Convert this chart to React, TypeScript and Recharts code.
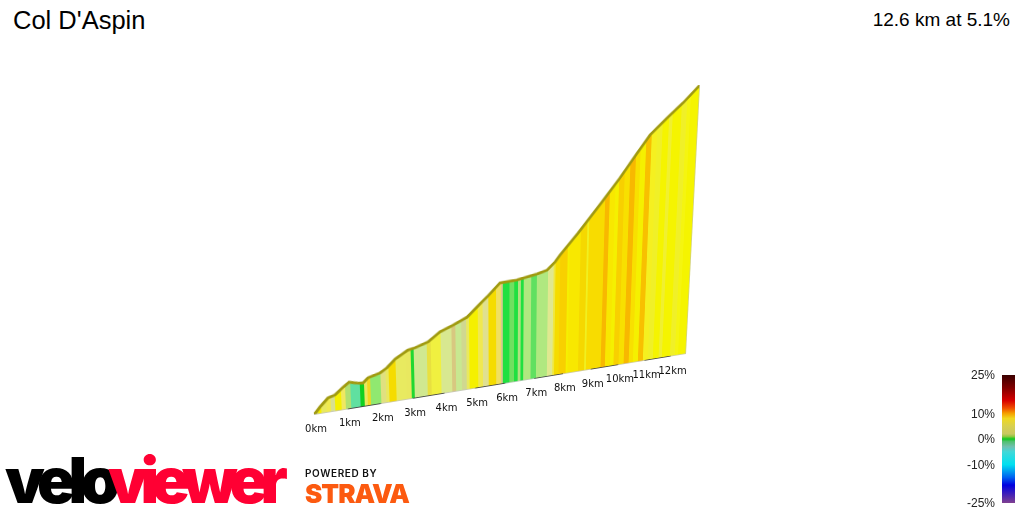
import {
  AreaChart,
  Area,
  BarChart,
  Bar,
  LineChart,
  Line,
  XAxis,
  YAxis,
  ReferenceLine,
} from "recharts";

const TITLE = "Col D'Aspin";
const SUBTITLE = "12.6 km at 5.1%";

const TOTAL_KM = 12.6;
const TOTAL_GAIN = 643;

// climb profile
const profileKm = [
  0, 0.19, 0.43, 0.64, 0.86, 1.07, 1.31, 1.48, 1.64, 2.01, 2.22, 2.48, 2.88, 3.1, 3.51, 3.89, 4.31,
  4.76, 5.24, 5.41, 5.83, 6.39, 7.06, 7.4, 7.67, 7.83, 8.44, 9.25, 9.85, 10.42, 10.87, 11.45, 12.01,
  12.6,
];
const profileElevation = [
  0, 16, 33, 37, 50, 61, 56, 54, 64, 71, 80, 97, 113, 116, 125, 144, 155, 169, 199, 209, 237, 239,
  247, 253, 270, 284, 330, 396, 446, 498, 538, 573, 605, 643,
];

// gradient bands: where each one ends (km) and its colour
const sliceEnds = [
  0.126, 0.225, 0.371, 0.497, 0.643, 0.81, 0.957, 1.105, 1.4, 1.5, 1.6, 1.7, 2.03, 2.18, 2.26, 2.49,
  2.8, 2.96, 3.06, 3.45, 3.59, 3.91, 4.26, 4.37, 4.56, 4.72, 4.83, 5.1, 5.27, 5.44, 5.69, 5.85, 5.93,
  6.14, 6.3, 6.42, 6.51, 6.6, 6.88, 7.05, 7.43, 7.63, 7.7, 7.84, 8.1, 8.17, 8.55, 8.77, 8.82, 9.34,
  9.5, 9.7, 9.83, 10.01, 10.2, 10.4, 10.56, 10.75, 10.94, 11.13, 11.32, 11.53, 11.65, 11.97, 12.17,
  12.3, 12.6,
];
const sliceColors = [
  "#e8e850", "#f5f000", "#e8e860", "#f0ea50", "#d8e090", "#f5f000", "#f0e860", "#b0e070", "#60e0a0",
  "#10d020", "#e8e860", "#f2d820", "#90e870", "#e0e080", "#e8e860", "#f5dc00", "#e8ea60", "#e8e860",
  "#20d830", "#d0e890", "#e8e040", "#f0f040", "#d8e890", "#d8c880", "#c8e890", "#d0d890", "#e8e860",
  "#f5f000", "#f0e850", "#e0e090", "#f5dc00", "#f0e060", "#d8c890", "#20e040", "#70e060", "#20e040",
  "#b0e080", "#20e040", "#b0e880", "#60e060", "#b0e880", "#e0e890", "#f0e840", "#f5dc00", "#f8d000",
  "#f5f000", "#f8e800", "#f5d800", "#f0f020", "#f8dc00", "#f8b800", "#f8e800", "#f5f000", "#f8d000",
  "#f8e000", "#f8b800", "#f8e000", "#f5f000", "#f8c000", "#f5f020", "#f0f028", "#f5f400", "#f0f030",
  "#f5f400", "#f0f028", "#f5f510", "#f5f400",
];

const kmTicks = [0, 1, 2, 3, 4, 5, 6, 7, 8, 9, 10, 11, 12];
const darkBaseKm = [1, 3, 5, 7, 9, 11];

// legend
const gradeTicks = [25, 10, 0, -10, -25];
const gradeStops = [25, 20, 15, 12, 10, 8, 5, 2, 1, 0, -1, -3, -5, -10, -15, -18, -25];
const gradeColors = [
  "#3a0000", "#800000", "#d80000", "#f05000", "#f5a000", "#f0d820", "#d8d050", "#c8c860", "#90c840",
  "#10c820", "#50c070", "#70c0b0", "#40d8d8", "#00e0f0", "#0060f0", "#0000e0", "#804090",
];

const profileData = profileKm.map((km, i) => ({ km, elevation: profileElevation[i] }));

// the flat chart is pushed into the 3D view with a homography
const PLOT_W = 400;
const PLOT_H = 300;
const corners = { x0: 314, y0: 415, x1: 686, y1: 354, x2: 700, y2: 85, x3: 297, y3: 104 };

const view = (() => {
  const { x0, y0, x1, y1, x2, y2, x3, y3 } = corners;
  const dx1 = x1 - x2;
  const dx2 = x3 - x2;
  const sx = x0 - x1 + x2 - x3;
  const dy1 = y1 - y2;
  const dy2 = y3 - y2;
  const sy = y0 - y1 + y2 - y3;
  const den = dx1 * dy2 - dx2 * dy1;
  const g = (sx * dy2 - dx2 * sy) / den;
  const h = (dx1 * sy - sx * dy1) / den;
  return {
    a: x1 - x0 + g * x1,
    b: x3 - x0 + h * x3,
    c: x0,
    d: y1 - y0 + g * y1,
    e: y3 - y0 + h * y3,
    f: y0,
    g,
    h,
  };
})();

const { a, b, c, d, e, f, g, h } = view;
const matrix = [
  a / PLOT_W, d / PLOT_W, 0, g / PLOT_W,
  -b / PLOT_H, -e / PLOT_H, 0, -h / PLOT_H,
  0, 0, 1, 0,
  b + c, e + f, 0, h + 1,
];

const baseX = (km: number) => {
  const u = km / TOTAL_KM;
  return (a * u + c) / (g * u + 1);
};
const baseY = (km: number) => {
  const u = km / TOTAL_KM;
  return (d * u + f) / (g * u + 1);
};

const labelData = [{ x: 0, y: 0 }];

function KmTick({ x, index }: any) {
  const km = kmTicks[index];
  return (
    <text
      x={x + 2}
      y={baseY(km) + 17}
      textAnchor="middle"
      fontFamily="DejaVu Sans"
      fontSize={10}
      fill="#111"
    >
      {km}km
    </text>
  );
}

function Logo() {
  return (
    <svg
      width={430}
      height={67}
      style={{ position: "absolute", left: 0, top: 445 }}
      fontFamily="Inter"
    >
      <text x={5} y={58} fontSize={63} fontWeight={900} fill="#000" letterSpacing={-6.7}>
        velo
      </text>
      <text x={108} y={58} fontSize={63} fontWeight={900} fill="#ff0033" letterSpacing={-7.3}>
        viewer
      </text>
      <text x={305} y={32} fontSize={10} fontWeight={600} fill="#111" letterSpacing={0.6}>
        POWERED BY
      </text>
      <text x={305} y={58} fontSize={26} fontWeight={900} fill="#fc5a10" letterSpacing={-1}>
        STRAVA
      </text>
    </svg>
  );
}

export default function App() {
  return (
    <div style={{ position: "absolute", left: 0, top: 0, width: 1024, height: 512, overflow: "hidden", background: "#fff" }}>
      <div style={{ position: "absolute", left: 13, top: 6, fontFamily: "Liberation Sans", fontSize: 25.5, color: "#000" }}>
        {TITLE}
      </div>
      <div style={{ position: "absolute", right: 14, top: 9, fontFamily: "Liberation Sans", fontSize: 19, color: "#000" }}>
        {SUBTITLE}
      </div>

      <div
        style={{
          position: "absolute",
          left: 0,
          top: 0,
          width: PLOT_W,
          height: PLOT_H,
          transformOrigin: "0 0",
          transform: `matrix3d(${matrix.join(",")})`,
        }}
      >
        <AreaChart width={PLOT_W} height={PLOT_H} data={profileData} margin={{ top: 0, right: 0, bottom: 0, left: 0 }}>
          <defs>
            <linearGradient id="slices" x1="0" y1="0" x2="1" y2="0">
              {sliceEnds.flatMap((end, i) => [
                <stop key={`s${i}`} offset={(i ? sliceEnds[i - 1] : 0) / TOTAL_KM} stopColor={sliceColors[i]} />,
                <stop key={`e${i}`} offset={end / TOTAL_KM} stopColor={sliceColors[i]} />,
              ])}
            </linearGradient>
          </defs>
          <XAxis type="number" dataKey="km" domain={[0, TOTAL_KM]} hide />
          <YAxis type="number" domain={[0, TOTAL_GAIN]} hide />
          <Area
            type="linear"
            dataKey="elevation"
            fill="url(#slices)"
            fillOpacity={1}
            stroke="#a09a10"
            strokeWidth={3}
            dot={false}
            activeDot={false}
            isAnimationActive={false}
          />
          <ReferenceLine y={0} stroke="#c4c4c4" strokeWidth={1.5} />
          <ReferenceLine
            segment={[{ x: TOTAL_KM, y: 0 }, { x: TOTAL_KM, y: TOTAL_GAIN }]}
            stroke="#c8c8a0"
            strokeWidth={1.5}
          />
          {darkBaseKm.map((km) => (
            <ReferenceLine
              key={km}
              segment={[{ x: km, y: 0 }, { x: km + 1, y: 0 }]}
              stroke="#222"
              strokeWidth={1.5}
            />
          ))}
        </AreaChart>
      </div>

      <div style={{ position: "absolute", left: 0, top: 0 }}>
        <LineChart width={1024} height={512} data={labelData} margin={{ top: 0, right: 0, bottom: 0, left: 0 }}>
          <XAxis
            type="number"
            dataKey="x"
            orientation="top"
            domain={[0, 1024]}
            ticks={kmTicks.map(baseX)}
            interval={0}
            tick={<KmTick />}
            tickLine={false}
            axisLine={false}
            height={1}
          />
          <YAxis hide domain={[0, 1]} />
          <Line dataKey="y" stroke="none" dot={false} isAnimationActive={false} />
        </LineChart>
      </div>

      <div style={{ position: "absolute", left: 960, top: 365 }}>
        <BarChart
          width={64}
          height={147}
          data={[{ name: "grade", range: [-25, 25] }]}
          margin={{ top: 10, right: 9, bottom: 9, left: 0 }}
          barCategoryGap={0}
        >
          <defs>
            <linearGradient id="grades" x1="0" y1="0" x2="0" y2="1">
              {gradeStops.map((s, i) => (
                <stop key={s} offset={(25 - s) / 50} stopColor={gradeColors[i]} />
              ))}
            </linearGradient>
          </defs>
          <XAxis dataKey="name" hide />
          <YAxis
            type="number"
            domain={[-25, 25]}
            ticks={gradeTicks}
            interval={0}
            width={42}
            tickFormatter={(v) => `${v}%`}
            tick={{ fontFamily: "Liberation Sans", fontSize: 12, fill: "#222" }}
            tickLine={false}
            axisLine={false}
            tickMargin={1}
          />
          <Bar dataKey="range" fill="url(#grades)" isAnimationActive={false} />
        </BarChart>
      </div>

      <Logo />
    </div>
  );
}
